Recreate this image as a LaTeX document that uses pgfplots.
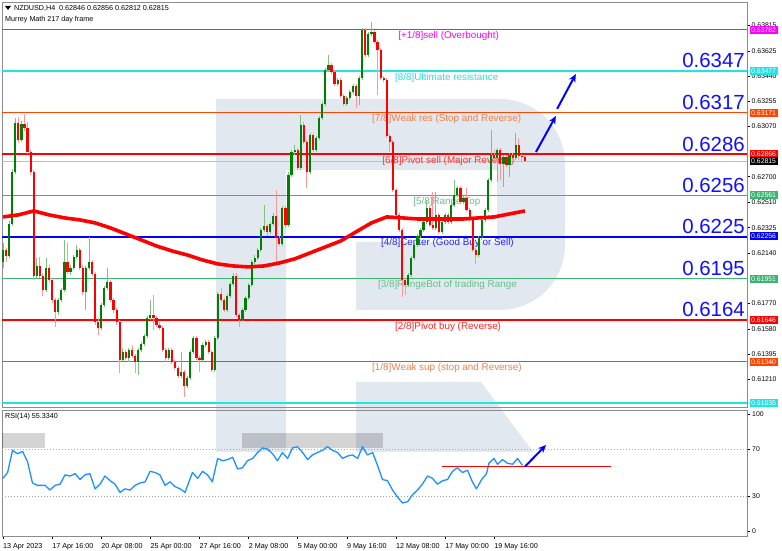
\documentclass[border=0pt]{standalone}
\usepackage{fontspec}
\setmainfont{Liberation Sans}
\usepackage{pgfplots}
\pgfplotsset{compat=1.18}
\usepackage{pgfplotstable}
\usetikzlibrary{arrows.meta}

\definecolor{lvlmag}{HTML}{FF00FF}
\definecolor{lvlcyan}{HTML}{22E3E3}
\definecolor{lvlorange}{HTML}{FF4500}
\definecolor{lvlred}{HTML}{FF0000}
\definecolor{lvlgreen}{HTML}{3CB371}
\definecolor{lvlblue}{HTML}{0000FF}
\definecolor{txtorange}{HTML}{F0804A}
\definecolor{txtgreen}{HTML}{6ABF8A}
\definecolor{upbody}{HTML}{008000}
\definecolor{upwick}{HTML}{80C080}
\definecolor{dnbody}{HTML}{FF0000}
\definecolor{dnwick}{HTML}{FF9999}
\definecolor{wmark}{HTML}{E2E8F0}
\definecolor{rsiblue}{HTML}{1E90FF}
\definecolor{frame}{HTML}{8C8C8C}
\definecolor{bignum}{HTML}{1010FF}

\newcommand\chartfont{\fontsize{7.2}{8}\selectfont}
\newcommand\lvlfont{\fontsize{9.9}{11}\selectfont}
\tikzset{bignode/.style={anchor=base east, inner sep=0, text=bignum, font=\fontsize{20.5}{22}\selectfont}}
\pgfplotsset{candle/.style={only marks, mark size=0pt,
    mark options={draw opacity=0, fill opacity=0}}}

% NZDUSD H4 candles: bar index, open, high, low, close
\pgfplotstableread{
i o h l c
0 0.62073 0.62213 0.62029 0.62161
2 0.62117 0.62374 0.62102 0.62352
3 0.62352 0.62757 0.62338 0.62735
4 0.62735 0.63133 0.62720 0.63096
6 0.62971 0.63110 0.62956 0.63088
11 0.61970 0.62102 0.61955 0.62043
14 0.61867 0.62102 0.61852 0.62029
18 0.61705 0.61808 0.61683 0.61793
19 0.61793 0.61881 0.61778 0.61867
20 0.61867 0.62235 0.61852 0.62073
22 0.61999 0.62051 0.61977 0.62029
23 0.62029 0.62124 0.62014 0.62110
24 0.62110 0.62198 0.62095 0.62161
27 0.61852 0.62043 0.61719 0.62029
28 0.62029 0.62257 0.62014 0.62073
32 0.61587 0.61771 0.61572 0.61756
33 0.61756 0.61896 0.61742 0.61881
34 0.61881 0.62029 0.61867 0.61926
39 0.61351 0.61440 0.61337 0.61410
41 0.61366 0.61440 0.61337 0.61425
44 0.61337 0.61440 0.61241 0.61425
45 0.61425 0.61484 0.61410 0.61469
46 0.61469 0.61543 0.61454 0.61528
47 0.61528 0.61675 0.61513 0.61661
48 0.61661 0.61793 0.61646 0.61683
54 0.61366 0.61440 0.61351 0.61425
58 0.61234 0.61410 0.61219 0.61263
60 0.61160 0.61234 0.61145 0.61219
61 0.61219 0.61425 0.61204 0.61410
62 0.61410 0.61528 0.61396 0.61513
65 0.61351 0.61477 0.61337 0.61462
66 0.61462 0.61499 0.61447 0.61484
69 0.61278 0.61528 0.61263 0.61513
70 0.61513 0.61852 0.61499 0.61837
73 0.61719 0.61837 0.61705 0.61822
74 0.61822 0.61926 0.61808 0.61911
75 0.61911 0.61992 0.61896 0.61970
78 0.61646 0.61734 0.61631 0.61719
79 0.61719 0.61822 0.61705 0.61808
80 0.61808 0.61918 0.61793 0.61903
81 0.61903 0.62087 0.61889 0.62073
82 0.62073 0.62124 0.62058 0.62102
83 0.62102 0.62176 0.62087 0.62161
84 0.62161 0.62323 0.62146 0.62308
85 0.62308 0.62492 0.62294 0.62338
87 0.62294 0.62367 0.62279 0.62352
88 0.62352 0.62433 0.62338 0.62411
91 0.62205 0.62485 0.62190 0.62470
93 0.62345 0.62735 0.62330 0.62713
94 0.62713 0.62897 0.62698 0.62882
95 0.62882 0.62934 0.62860 0.62897
97 0.62765 0.63155 0.62750 0.63081
100 0.62735 0.63022 0.62720 0.63007
102 0.62897 0.63000 0.62882 0.62985
103 0.62985 0.63147 0.62971 0.63133
104 0.63133 0.63250 0.63118 0.63236
105 0.63236 0.63501 0.63221 0.63486
106 0.63486 0.63596 0.63471 0.63523
109 0.63383 0.63427 0.63368 0.63412
112 0.63236 0.63294 0.63221 0.63280
113 0.63280 0.63339 0.63265 0.63324
114 0.63324 0.63383 0.63309 0.63368
116 0.63294 0.63442 0.63228 0.63427
117 0.63427 0.63795 0.63412 0.63780
119 0.63596 0.63766 0.63582 0.63751
120 0.63751 0.63839 0.63736 0.63766
132 0.61903 0.61992 0.61889 0.61977
133 0.61977 0.62117 0.61962 0.62102
134 0.62102 0.62213 0.62087 0.62198
135 0.62198 0.62279 0.62183 0.62264
136 0.62264 0.62323 0.62249 0.62308
137 0.62308 0.62382 0.62294 0.62367
138 0.62367 0.62529 0.62352 0.62470
141 0.62323 0.62588 0.62308 0.62419
143 0.62294 0.62382 0.62279 0.62367
144 0.62367 0.62433 0.62352 0.62419
146 0.62367 0.62507 0.62352 0.62492
147 0.62492 0.62676 0.62478 0.62566
148 0.62566 0.62632 0.62551 0.62617
150 0.62514 0.62558 0.62500 0.62544
155 0.62124 0.62264 0.62110 0.62249
156 0.62249 0.62397 0.62235 0.62382
157 0.62382 0.62470 0.62367 0.62455
158 0.62455 0.62691 0.62441 0.62676
159 0.62676 0.63044 0.62661 0.62860
161 0.62838 0.62912 0.62661 0.62897
163 0.62794 0.62860 0.62625 0.62846
165 0.62787 0.62875 0.62698 0.62860
167 0.62838 0.63022 0.62823 0.62934
}\upbars

\pgfplotstableread{
i o h l c
1 0.62161 0.62176 0.62073 0.62117
5 0.63096 0.63140 0.62949 0.62971
7 0.63088 0.63162 0.63037 0.63059
8 0.63059 0.63103 0.62868 0.62882
9 0.62882 0.62897 0.62713 0.62735
10 0.62735 0.62750 0.61940 0.61970
12 0.62043 0.62110 0.61955 0.61970
13 0.61970 0.61984 0.61822 0.61867
15 0.62029 0.62051 0.61926 0.61940
16 0.61940 0.61955 0.61771 0.61793
17 0.61793 0.61808 0.61594 0.61705
21 0.62073 0.62213 0.61984 0.61999
25 0.62161 0.62176 0.62014 0.62029
26 0.62029 0.62051 0.61830 0.61852
29 0.62073 0.62087 0.61970 0.61984
30 0.61984 0.61999 0.61609 0.61631
31 0.61631 0.61661 0.61535 0.61587
35 0.61926 0.61940 0.61778 0.61793
36 0.61793 0.61808 0.61697 0.61719
37 0.61719 0.61734 0.61609 0.61631
38 0.61631 0.61646 0.61256 0.61351
40 0.61410 0.61425 0.61351 0.61366
42 0.61425 0.61462 0.61366 0.61381
43 0.61381 0.61396 0.61256 0.61337
49 0.61683 0.61830 0.61572 0.61661
50 0.61661 0.61675 0.61594 0.61609
51 0.61609 0.61631 0.61572 0.61587
52 0.61587 0.61602 0.61410 0.61425
53 0.61425 0.61440 0.61337 0.61366
55 0.61425 0.61440 0.61322 0.61337
56 0.61337 0.61351 0.61278 0.61293
57 0.61293 0.61307 0.61219 0.61234
59 0.61263 0.61278 0.61079 0.61160
63 0.61513 0.61528 0.61351 0.61366
64 0.61366 0.61381 0.61263 0.61351
67 0.61484 0.61499 0.61396 0.61410
68 0.61410 0.61425 0.61263 0.61278
71 0.61837 0.61881 0.61778 0.61793
72 0.61793 0.61808 0.61705 0.61719
76 0.61970 0.61992 0.61668 0.61683
77 0.61683 0.61697 0.61594 0.61646
86 0.62338 0.62352 0.62264 0.62294
89 0.62411 0.62603 0.62073 0.62249
90 0.62249 0.62264 0.62190 0.62205
92 0.62470 0.62485 0.62323 0.62345
96 0.62897 0.62912 0.62750 0.62765
98 0.63081 0.63103 0.62941 0.62956
99 0.62956 0.62971 0.62617 0.62735
101 0.63007 0.63022 0.62882 0.62897
107 0.63523 0.63537 0.63456 0.63471
108 0.63471 0.63486 0.63368 0.63383
110 0.63412 0.63427 0.63280 0.63294
111 0.63294 0.63309 0.63221 0.63236
115 0.63368 0.63383 0.63206 0.63294
118 0.63780 0.63795 0.63582 0.63596
121 0.63766 0.63780 0.63677 0.63692
122 0.63692 0.63707 0.63302 0.63633
123 0.63633 0.63648 0.63412 0.63427
124 0.63427 0.63442 0.63398 0.63412
125 0.63412 0.63427 0.62985 0.63000
126 0.63000 0.63015 0.62882 0.62956
127 0.62956 0.62971 0.62588 0.62603
128 0.62603 0.62617 0.62404 0.62419
129 0.62419 0.62433 0.62294 0.62308
130 0.62308 0.62323 0.61815 0.61940
131 0.61940 0.61955 0.61830 0.61903
139 0.62470 0.62485 0.62330 0.62345
140 0.62345 0.62588 0.62308 0.62323
142 0.62419 0.62433 0.62279 0.62294
145 0.62419 0.62433 0.62352 0.62367
149 0.62617 0.62632 0.62500 0.62514
151 0.62544 0.62617 0.62441 0.62455
152 0.62455 0.62470 0.62367 0.62382
153 0.62382 0.62397 0.62146 0.62161
154 0.62161 0.62176 0.62058 0.62124
160 0.62860 0.62897 0.62823 0.62838
162 0.62897 0.62912 0.62676 0.62794
164 0.62846 0.62860 0.62772 0.62787
166 0.62860 0.62875 0.62823 0.62838
168 0.62934 0.62985 0.62823 0.62853
169 0.62853 0.62868 0.62809 0.62846
170 0.62846 0.62856 0.62812 0.62815
}\dnbars

\begin{document}
\begin{tikzpicture}[x=1bp,y=1bp]
\path[use as bounding box, fill=white] (0,0) rectangle (782,551);

% watermark logo, screen pixel coordinates (y down)
\begin{scope}[shift={(0,551)}, y=-1bp]
\fill[wmark] (216,99) -- (500,99) arc[start angle=-90, end angle=0, radius=65]
  -- (565,245) arc[start angle=0, end angle=90, radius=65]
  -- (356,310) -- (356,242) -- (497,242) -- (497,170) -- (286,170)
  -- (286,452) -- (216,452) -- cycle;
\fill[wmark] (356,382) -- (481,382) -- (533,452) -- (356,452) -- cycle;
\end{scope}

% ---------------- price panel ----------------
\begin{axis}[
    at={(2bp,144bp)}, anchor=south west,
    width=745bp, height=405bp, scale only axis,
    xmin=-0.33, xmax=242.35,
    ymin=0.61005, ymax=0.63986,
    axis line style={draw=frame},
    xtick=\empty,
    ytick={0.61210,0.61395,0.61580,0.61770,0.62140,0.62325,0.62510,
           0.62700,0.63070,0.63255,0.63440,0.63625,0.63815},
    yticklabels={0.61210,0.61395,0.61580,0.61770,0.62140,0.62325,0.62510,
           0.62700,0.63070,0.63255,0.63440,0.63625,0.63815},
    scaled y ticks=false,
    ytick pos=right, yticklabel pos=right,
    tick align=outside, major tick length=3bp,
    tick style={draw=black, line width=0.5bp},
    yticklabel style={font=\fontsize{6.9}{7}\selectfont, inner sep=1.5bp},
    clip mode=individual,
  ]
% Murrey math levels
\addplot[lvlmag, line width=1.6bp] coordinates {(-0.33,0.63782) (242.35,0.63782)};
\addplot[lvlcyan, line width=1.6bp] coordinates {(-0.33,0.63477) (242.35,0.63477)};
\addplot[lvlorange, line width=1.4bp] coordinates {(-0.33,0.63171) (242.35,0.63171)};
\addplot[lvlred, line width=2bp] coordinates {(-0.33,0.62866) (242.35,0.62866)};
\addplot[black!25, line width=0.8bp] coordinates {(-0.33,0.62815) (242.35,0.62815)};
\addplot[lvlgreen, line width=1.4bp] coordinates {(-0.33,0.62561) (242.35,0.62561)};
\addplot[lvlblue, line width=1.4bp] coordinates {(-0.33,0.62256) (242.35,0.62256)};
\addplot[lvlgreen, line width=1.4bp] coordinates {(-0.33,0.61951) (242.35,0.61951)};
\addplot[lvlred, line width=1.4bp] coordinates {(-0.33,0.61646) (242.35,0.61646)};
\addplot[lvlorange, line width=1.4bp] coordinates {(-0.33,0.61340) (242.35,0.61340)};
\addplot[lvlcyan, line width=1.8bp] coordinates {(-0.33,0.61035) (242.35,0.61035)};

\node[anchor=west, inner sep=0, text=lvlmag, font=\lvlfont] at (axis cs:128.7,0.63736) {[+1/8]sell (Overbought)};
\node[anchor=west, inner sep=0, text=lvlcyan, font=\lvlfont] at (axis cs:127.7,0.63427) {[8/8]Ultimate resistance};
\node[anchor=west, inner sep=0, text=txtorange, font=\lvlfont] at (axis cs:120.2,0.63125) {[7/8]Weak res (Stop and Reverse)};
\node[anchor=west, inner sep=0, text=lvlred!80, font=\lvlfont] at (axis cs:123.5,0.62816) {[6/8]Pivot sell (Major Reverse)};
\node[anchor=west, inner sep=0, text=txtgreen, font=\lvlfont] at (axis cs:133.6,0.62514) {[5/8]Range Top};
\node[anchor=west, inner sep=0, text=lvlblue!85, font=\lvlfont] at (axis cs:123.1,0.62213) {[4/8]Center (Good Buy or Sell)};
\node[anchor=west, inner sep=0, text=txtgreen, font=\lvlfont] at (axis cs:122.1,0.61903) {[3/8]RangeBot of trading Range};
\node[anchor=west, inner sep=0, text=lvlred!85, font=\lvlfont] at (axis cs:127.7,0.61594) {[2/8]Pivot buy (Reverse)};
\node[anchor=west, inner sep=0, text=txtorange, font=\lvlfont] at (axis cs:120.2,0.61293) {[1/8]Weak sup (stop and Reverse)};

% candles: wicks then bodies
\addplot[candle, error bars/.cd, y dir=plus, y explicit, error mark=none,
  error bar style={draw=upwick, line width=0.9bp}]
  table[x=i, y=l, y error expr=\thisrow{h}-\thisrow{l}] {\upbars};
\addplot[candle, error bars/.cd, y dir=plus, y explicit, error mark=none,
  error bar style={draw=dnwick, line width=0.9bp}]
  table[x=i, y=l, y error expr=\thisrow{h}-\thisrow{l}] {\dnbars};
\addplot[candle, error bars/.cd, y dir=plus, y explicit, error mark=none,
  error bar style={draw=upbody, line width=2.2bp}]
  table[x=i, y=o, y error expr=\thisrow{c}-\thisrow{o}] {\upbars};
\addplot[candle, error bars/.cd, y dir=plus, y explicit, error mark=none,
  error bar style={draw=dnbody, line width=2.2bp}]
  table[x=i, y=c, y error expr=\thisrow{o}-\thisrow{c}] {\dnbars};

% moving average
\addplot[lvlred, line width=3.6bp, line join=round] coordinates {
 (0,0.62404) (5,0.62419) (10,0.62448) (15,0.62419) (20,0.62397) (25,0.62382)
 (30,0.62360) (35,0.62323) (40,0.62279) (45,0.62235) (50,0.62190) (55,0.62154)
 (60,0.62124) (65,0.62087) (70,0.62058) (75,0.62043) (80,0.62036) (85,0.62043)
 (90,0.62065) (95,0.62095) (100,0.62139) (105,0.62183) (110,0.62227) (115,0.62294)
 (120,0.62360) (125,0.62404) (130,0.62397) (135,0.62389) (140,0.62389) (145,0.62389)
 (150,0.62389) (155,0.62397) (160,0.62404) (165,0.62426) (170,0.62448)
};

% forecast arrows
\draw[lvlblue, line width=2bp, -{Stealth[length=8bp, width=7bp]}]
  (axis cs:173.6,0.62882) -- (axis cs:180.1,0.63147);
\draw[lvlblue, line width=2bp, -{Stealth[length=8bp, width=7bp]}]
  (axis cs:180.5,0.63199) -- (axis cs:186.6,0.63456);

% big level numbers
\node[bignode] at (axis cs:241.7,0.63501) {0.6347};
\node[bignode] at (axis cs:241.7,0.63191) {0.6317};
\node[bignode] at (axis cs:241.7,0.62882) {0.6286};
\node[bignode] at (axis cs:241.7,0.62581) {0.6256};
\node[bignode] at (axis cs:241.7,0.62279) {0.6225};
\node[bignode] at (axis cs:241.7,0.61970) {0.6195};
\node[bignode] at (axis cs:241.7,0.61668) {0.6164};
\end{axis}

% ---------------- RSI panel ----------------
\begin{axis}[
    at={(2bp,15bp)}, anchor=south west,
    width=745bp, height=126bp, scale only axis,
    xmin=-0.33, xmax=242.35,
    ymin=-4.27, ymax=103.4,
    axis line style={draw=frame},
    ytick={0,30,70,100}, yticklabels={0,30,70,100},
    ytick pos=right, yticklabel pos=right,
    xtick={0,16,32,48,64,80,96,112,128,144,160},
    xticklabels={13 Apr 2023,17 Apr 16:00,20 Apr 08:00,25 Apr 00:00,27 Apr 16:00,
                 2 May 08:00,5 May 00:00,9 May 16:00,12 May 08:00,17 May 00:00,19 May 16:00},
    xtick pos=bottom,
    tick align=outside, major tick length=3bp,
    tick style={draw=black, line width=0.5bp},
    xticklabel style={font=\chartfont, anchor=north west, inner xsep=0, yshift=-1bp},
    yticklabel style={font=\fontsize{6.9}{7}\selectfont, inner sep=2bp},
    clip mode=individual,
  ]
\addplot[black!35, line width=0.6bp, dash pattern=on 1.2bp off 1.8bp] coordinates {(-0.33,70) (242.35,70)};
\addplot[black!35, line width=0.6bp, dash pattern=on 1.2bp off 1.8bp] coordinates {(-0.33,30) (242.35,30)};
\addplot[draw=none, fill=black, fill opacity=0.17] coordinates {(-0.33,71) (13.7,71) (13.7,84) (-0.33,84)} -- cycle;
\addplot[draw=none, fill=black, fill opacity=0.17] coordinates {(77.9,71) (123.8,71) (123.8,84) (77.9,84)} -- cycle;

\addplot[rsiblue, line width=1.3bp, line join=round] coordinates {
 (0,45) (1.5,50) (3.1,69) (4.7,66) (6.4,68) (8.0,59) (9.6,41) (11.2,39) (13.7,39)
 (15.3,35) (16.9,39) (18.6,40) (20.2,48) (21.8,47) (23.5,49) (25.1,44) (26.7,48)
 (28.3,49) (30.0,36) (31.6,40) (33.2,47) (34.9,43) (36.5,40) (38.1,33) (39.7,36)
 (41.4,35) (43.0,39) (44.6,41) (46.3,42) (47.9,51) (49.5,50) (51.1,48) (52.8,39)
 (54.4,42) (56.0,38) (57.7,36) (59.3,33) (61.7,50) (63.4,45) (65.0,51) (66.6,48)
 (68.2,42) (69.9,62) (71.5,60) (73.1,61) (74.8,63) (76.4,53) (78.0,54) (79.6,60)
 (81.3,62) (82.9,67) (84.5,71) (86.2,70) (87.8,66) (89.4,60) (91.0,67) (92.7,62)
 (94.3,71) (95.9,72) (97.6,67) (99.2,61) (100.8,65) (102.4,67) (104.1,69) (105.7,72)
 (107.3,69) (109.0,67) (110.6,62) (112.2,64) (113.8,65) (115.5,62) (117.1,72) (118.7,65)
 (120.4,67) (122.0,56) (123.6,44) (125.2,43) (126.9,35) (128.5,29) (130.1,24) (131.8,25)
 (133.4,31) (135.0,35) (136.6,40) (138.3,47) (139.9,45) (141.5,40) (143.2,43) (144.8,44)
 (146.4,51) (148.0,54) (149.7,50) (151.3,52) (152.9,42) (154.2,36) (155.9,44) (157.5,49)
 (158.3,58) (159.9,62) (161.1,57) (162.7,61) (164.3,58) (166.0,57) (167.6,62) (169.2,56)
};
\addplot[lvlred, line width=1.5bp] coordinates {(143,55) (198,55)};
\draw[lvlblue, line width=2bp, -{Stealth[length=8bp, width=7bp]}]
  (axis cs:170,55) -- (axis cs:176.9,73.5);
\end{axis}

% header, price tags (screen pixel coordinates)
\begin{scope}[shift={(0,551)}, y=-1bp]
\fill[black] (5,6) -- (11,6) -- (8,10) -- cycle;
\node[anchor=base west, inner sep=0, font=\chartfont] at (14,11) {NZDUSD,H4\ \ 0.62846 0.62856 0.62812 0.62815};
\node[anchor=base west, inner sep=0, font=\chartfont] at (5,21.5) {Murrey Math 217 day frame};
\node[anchor=base west, inner sep=0, font=\chartfont] at (5,419) {RSI(14) 55.3340};
\foreach \y/\c/\t in {30/lvlmag/0.63782, 71/lvlcyan/0.63477, 113/lvlorange/0.63171,
    154/lvlred/0.62866, 161/black/0.62815, 195/lvlgreen/0.62561, 236/lvlblue/0.62256,
    279/lvlgreen/0.61951, 320/lvlred/0.61646, 362/lvlorange/0.61340, 403/lvlcyan/0.61035}
  {\node[anchor=west, fill=\c, text=white, inner xsep=1.5bp, inner ysep=0,
         minimum height=8.6bp, font=\fontsize{6.9}{7}\selectfont] at (749.5,\y) {\t};}
\end{scope}
\end{tikzpicture}
\end{document}
